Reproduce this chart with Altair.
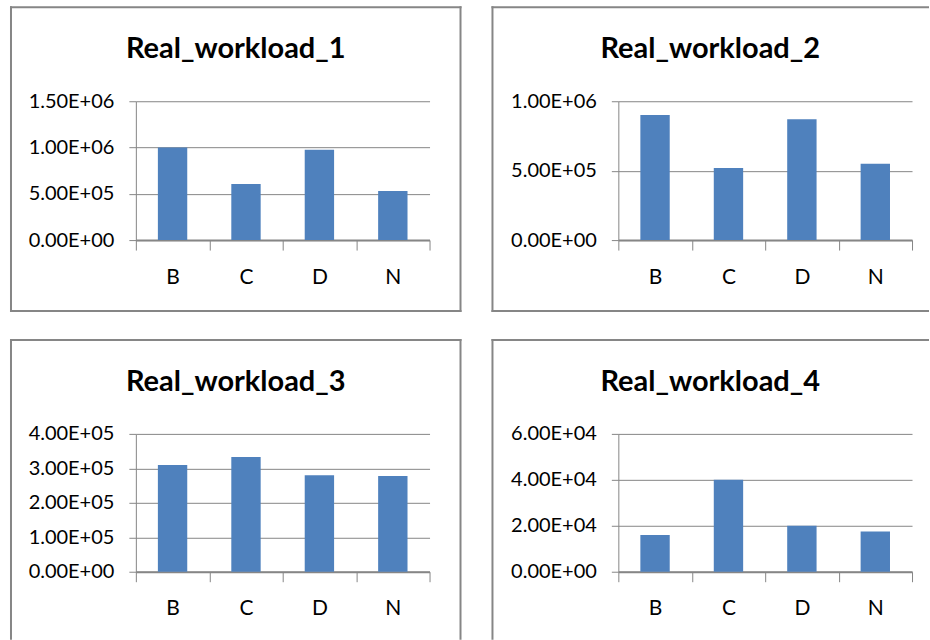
import altair as alt
import pandas as pd

# Workload measurements per method
categories = ["B", "C", "D", "N"]
titles = ["Real_workload_1", "Real_workload_2", "Real_workload_3", "Real_workload_4"]
wl1 = [1.00e6, 6.05e5, 9.75e5, 5.30e5]
wl2 = [9.00e5, 5.20e5, 8.70e5, 5.50e5]
wl3 = [3.10e5, 3.33e5, 2.80e5, 2.78e5]
wl4 = [1.60e4, 4.00e4, 2.00e4, 1.75e4]

# Y-axis ranges and tick steps for each panel
y_max = [1.5e6, 1.0e6, 4.0e5, 6.0e4]
y_step = [5e5, 5e5, 1e5, 2e4]

BAR = "#4F81BD"
GRAY = "#868686"
FONT = "Lato"

# Excel-style scientific labels: 1.50E+06
EXP = "floor(log(datum.value) / LN10 + 1e-9)"
SCI = (
    "datum.value == 0 ? '0.00E+00' : "
    f"format(datum.value / pow(10, {EXP}), '.2f') + 'E+' + "
    f"({EXP} < 10 ? '0' : '') + {EXP}"
)


def rule(x1, y1, x2, y2):
    return alt.Chart(pd.DataFrame({"k": [0]})).mark_rule(
        color=GRAY, strokeWidth=2, strokeCap="square"
    ).encode(x=alt.value(x1), x2=alt.value(x2), y=alt.value(y1), y2=alt.value(y2))


def panel(title, values, ymax, ystep, height, box, sides):
    df = pd.DataFrame({"cat": categories, "val": values})
    n_ticks = int(round(ymax / ystep)) + 1
    ticks = [i * ystep for i in range(n_ticks)]

    bars = alt.Chart(df).mark_bar(color=BAR, width={"band": 0.4}).encode(
        x=alt.X(
            "cat:N",
            sort=categories,
            title=None,
            scale=alt.Scale(paddingInner=0, paddingOuter=0),
            axis=alt.Axis(
                labelAngle=0,
                tickBand="extent",
                tickSize=10,
                tickColor=GRAY,
                domainColor=GRAY,
                domainWidth=2,
                labelFontSize=21,
                labelPadding=16,
                grid=False,
            ),
        ),
        y=alt.Y(
            "val:Q",
            title=None,
            scale=alt.Scale(domain=[0, ymax], nice=False, zero=True),
            axis=alt.Axis(
                values=ticks,
                labelExpr=SCI,
                tickSize=7,
                tickColor=GRAY,
                domainColor=GRAY,
                labelFontSize=20,
                labelPadding=15,
                grid=True,
                gridColor=GRAY,
            ),
        ),
    )

    heading = alt.Chart(pd.DataFrame({"t": [title]})).mark_text(
        font=FONT, fontSize=29, fontWeight="bold", color="#000000",
        align="center", baseline="alphabetic",
    ).encode(x=alt.value((box[0] + box[2]) / 2), y=alt.value(-43), text="t:N")

    L, T, R, B = box
    edges = []
    if "top" in sides:
        edges.append(rule(L, T, R, T))
    if "left" in sides:
        edges.append(rule(L, T, L, B))
    if "right" in sides:
        edges.append(rule(R, T, R, B))
    if "bottom" in sides:
        edges.append(rule(L, B, R, B))

    return alt.layer(bars, heading, *edges).properties(width=294, height=height)


p1 = panel(titles[0], wl1, y_max[0], y_step[0], 139, (-125, -94, 325, 210),
           ["top", "left", "right", "bottom"])
p2 = panel(titles[1], wl2, y_max[1], y_step[1], 139, (-126, -94, 310, 210),
           ["top", "left", "bottom"])
p3 = panel(titles[2], wl3, y_max[2], y_step[2], 138, (-125, -94, 325, 205),
           ["top", "left", "right"])
p4 = panel(titles[3], wl4, y_max[3], y_step[3], 138, (-126, -94, 310, 205),
           ["top", "left"])

chart = alt.concat(
    p1, p2, p3, p4, columns=2, spacing={"row": 194, "column": 189}, bounds="flush"
).properties(
    padding={"left": 9, "top": 5, "right": 0, "bottom": 0},
    background="#FFFFFF",
).configure_view(
    stroke=None
).configure_axis(
    labelFont=FONT, labelColor="#000000"
)

chart.save("out.html", embed_options={"renderer": "svg", "actions": False})
